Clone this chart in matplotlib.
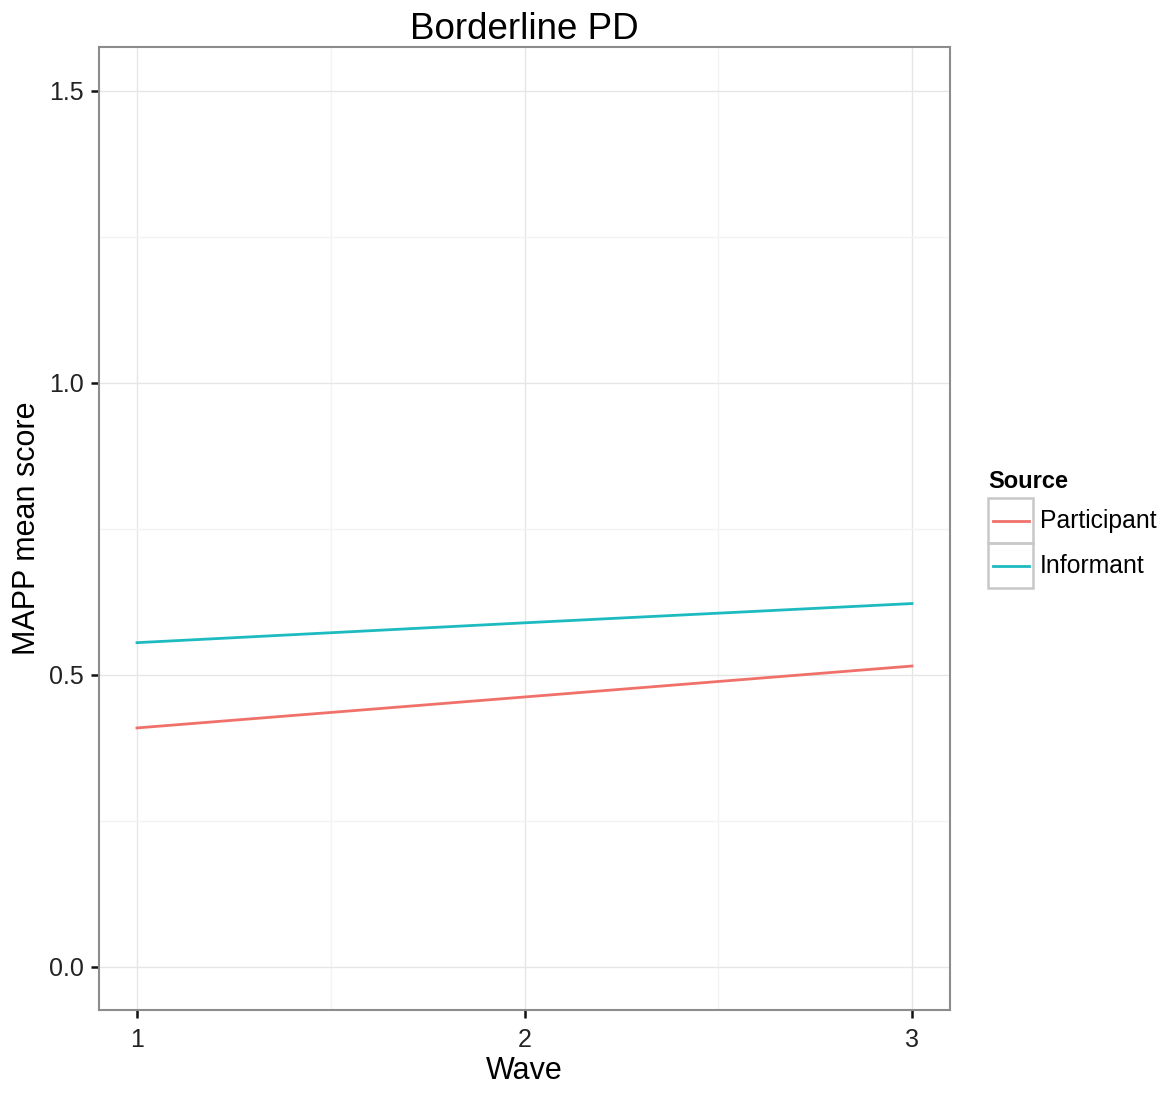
import matplotlib
matplotlib.use("Agg")
from matplotlib import pyplot as plt
from matplotlib.patches import Rectangle
from matplotlib.lines import Line2D
import numpy as np

plt.rcParams['font.family'] = ['Liberation Sans', 'DejaVu Sans']

wave = [1, 2, 3]
participant = [0.409, 0.462, 0.515]
informant = [0.555, 0.589, 0.622]
series_names = ["Participant", "Informant"]
colors = ["#F0716A", "#1DBAC0"]

W, H = 1169, 1093
fig = plt.figure(figsize=(W / 100, H / 100), dpi=100)
ax = fig.add_axes([99 / W, 1 - 1010 / H, (950 - 99) / W, (1010 - 47) / H])

ax.plot(wave, participant, color=colors[0], lw=2.0, zorder=3)
ax.plot(wave, informant, color=colors[1], lw=2.0, zorder=3)

ax.set_xlim(0.902, 3.098)
ax.set_ylim(-0.074, 1.575)
ax.set_xticks([1, 2, 3])
ax.set_xticklabels(["1", "2", "3"])
ax.set_yticks([0.0, 0.5, 1.0, 1.5])
ax.set_yticklabels(["0.0", "0.5", "1.0", "1.5"])
ax.set_xticks([1.5, 2.5], minor=True)
ax.set_yticks([0.25, 0.75, 1.25], minor=True)

ax.grid(which="major", color="#e6e6e6", lw=1.0, zorder=0)
ax.grid(which="minor", color="#f3f3f3", lw=1.0, zorder=0)
ax.set_axisbelow(True)
ax.tick_params(which="minor", length=0)
ax.tick_params(axis="x", which="major", pad=7)
ax.tick_params(axis="y", which="major", pad=5)
ax.tick_params(which="major", length=6, width=1.8, color="#111111",
               labelsize=18, labelcolor="#222222")
for s in ax.spines.values():
    s.set_color("#8c8c8c")
    s.set_linewidth(1.5)

ax.set_title("Borderline PD", fontsize=26.5, pad=6)
ax.set_xlabel("Wave", fontsize=22, labelpad=3)
ax.set_ylabel("MAPP mean score", fontsize=22, labelpad=5)

# legend drawn like ggplot's
fig.text(988 / W, 1 - 488 / H, "Source", fontsize=17, fontweight="bold",
         ha="left", va="baseline")
tops = [498, 543]
for i, name in enumerate(series_names):
    y0 = tops[i]
    fig.patches.append(Rectangle((988 / W, 1 - (y0 + 45) / H), 45 / W, 45 / H,
                                 transform=fig.transFigure, fill=False,
                                 ec="#c8c8c8", lw=1.8))
    yc = 1 - (y0 + 23) / H
    fig.lines.append(Line2D([993 / W, 1029 / W], [yc, yc], transform=fig.transFigure,
                            color=colors[i], lw=2.0))
    fig.text(1040 / W, yc, name, fontsize=17.8, ha="left", va="center")

fig.savefig("out.png", dpi=100)
